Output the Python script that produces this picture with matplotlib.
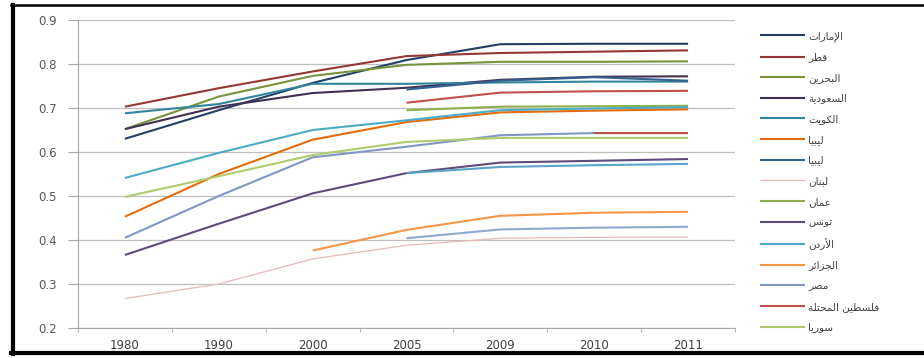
import numpy as np
import matplotlib
matplotlib.use("Agg")
import matplotlib.pyplot as plt
from matplotlib.lines import Line2D
from matplotlib.ticker import FixedLocator

nan = np.nan

# ---------------- data ----------------
years = ['1980', '1990', '2000', '2005', '2009', '2010', '2011']

countries = ['الإمارات', 'قطر', 'البحرين', 'السعودية', 'الكويت', 'ليبيا', 'ليبيا',
             'لبنان', 'عمان', 'تونس', 'الأردن', 'الجزائر', 'مصر',
             'فلسطين المحتلة', 'سوريا']

uae       = [0.630, 0.695, 0.757, 0.809, 0.845, 0.846, 0.846]
qatar     = [0.703, 0.745, 0.783, 0.818, 0.825, 0.828, 0.831]
bahrain   = [0.652, 0.726, 0.773, 0.798, 0.805, 0.805, 0.806]
saudi     = [0.652, 0.703, 0.734, 0.746, 0.764, 0.771, 0.772]
kuwait    = [0.688, 0.709, 0.755, 0.755, 0.758, 0.760, 0.760]
libya1    = [0.453, 0.550, 0.628, 0.668, 0.690, 0.694, 0.697]
libya2    = [nan, nan, nan, 0.742, 0.762, 0.770, 0.762]
lebanon   = [0.267, 0.300, 0.357, 0.388, 0.404, 0.406, 0.407]
oman      = [nan, nan, nan, 0.695, 0.703, 0.704, 0.705]
tunisia   = [0.366, 0.437, 0.506, 0.552, 0.576, 0.580, 0.584]
jordan    = [0.541, 0.598, 0.650, 0.672, 0.695, 0.699, 0.702]
algeria   = [nan, nan, 0.376, 0.423, 0.455, 0.462, 0.464]
egypt     = [0.405, 0.500, 0.588, 0.612, 0.638, 0.643, 0.643]
palestine = [nan, nan, nan, 0.712, 0.735, 0.738, 0.739]
syria     = [0.498, 0.545, 0.593, 0.623, 0.632, 0.632, 0.632]

# extra unlabeled segments visible in the picture
extra_red      = [nan, nan, nan, nan, nan, 0.644, 0.644]
extra_aqua     = [nan, nan, nan, 0.552, 0.566, 0.570, 0.573]
extra_bluegray = [nan, nan, nan, 0.404, 0.424, 0.428, 0.430]

series = [uae, qatar, bahrain, saudi, kuwait, libya1, libya2, lebanon, oman,
          tunisia, jordan, algeria, egypt, palestine, syria]
colors = ['#243F66', '#953735', '#77933C', '#403152', '#31859C', '#E46C0A',
          '#376092', '#E6B9B8', '#8DB04B', '#604A7B', '#4BACC6', '#F79646',
          '#7F96C6', '#C0504D', '#AFCB6E']
widths = [1.5] * 15
widths[7] = 0.9

extras = [extra_aqua, extra_bluegray, extra_red]
extra_colors = ['#5BA3C9', '#8EA9D0', '#C0504D']

y_ticks = [0.2, 0.3, 0.4, 0.5, 0.6, 0.7, 0.8, 0.9]

# ---------------- Arabic shaping (presentation forms, visual order) ----------------
FORMS = {
    '\u0627': ('\uFE8D', '\uFE8E', None, None),
    '\u0623': ('\uFE83', '\uFE84', None, None),
    '\u0625': ('\uFE87', '\uFE88', None, None),
    '\u0626': ('\uFE89', '\uFE8A', '\uFE8B', '\uFE8C'),
    '\u0628': ('\uFE8F', '\uFE90', '\uFE91', '\uFE92'),
    '\u0629': ('\uFE93', '\uFE94', None, None),
    '\u062A': ('\uFE95', '\uFE96', '\uFE97', '\uFE98'),
    '\u062C': ('\uFE9D', '\uFE9E', '\uFE9F', '\uFEA0'),
    '\u062D': ('\uFEA1', '\uFEA2', '\uFEA3', '\uFEA4'),
    '\u062F': ('\uFEA9', '\uFEAA', None, None),
    '\u0631': ('\uFEAD', '\uFEAE', None, None),
    '\u0632': ('\uFEAF', '\uFEB0', None, None),
    '\u0633': ('\uFEB1', '\uFEB2', '\uFEB3', '\uFEB4'),
    '\u0635': ('\uFEB9', '\uFEBA', '\uFEBB', '\uFEBC'),
    '\u0637': ('\uFEC1', '\uFEC2', '\uFEC3', '\uFEC4'),
    '\u0639': ('\uFEC9', '\uFECA', '\uFECB', '\uFECC'),
    '\u0641': ('\uFED1', '\uFED2', '\uFED3', '\uFED4'),
    '\u0642': ('\uFED5', '\uFED6', '\uFED7', '\uFED8'),
    '\u0643': ('\uFED9', '\uFEDA', '\uFEDB', '\uFEDC'),
    '\u0644': ('\uFEDD', '\uFEDE', '\uFEDF', '\uFEE0'),
    '\u0645': ('\uFEE1', '\uFEE2', '\uFEE3', '\uFEE4'),
    '\u0646': ('\uFEE5', '\uFEE6', '\uFEE7', '\uFEE8'),
    '\u0648': ('\uFEED', '\uFEEE', None, None),
    '\u064A': ('\uFEF1', '\uFEF2', '\uFEF3', '\uFEF4'),
}
LAM_ALEF = {'\u0627': ('\uFEFB', '\uFEFC', None, None),
            '\u0623': ('\uFEF7', '\uFEF8', None, None),
            '\u0625': ('\uFEF9', '\uFEFA', None, None)}


def shape(text):
    tokens = []
    i = 0
    while i < len(text):
        c = text[i]
        if c == '\u0644' and i + 1 < len(text) and text[i + 1] in LAM_ALEF:
            tokens.append(LAM_ALEF[text[i + 1]])
            i += 2
        elif c in FORMS:
            tokens.append(FORMS[c])
            i += 1
        else:
            tokens.append(c)
            i += 1
    out = []
    for k, t in enumerate(tokens):
        if isinstance(t, str):
            out.append(t)
            continue
        prev = tokens[k - 1] if k > 0 else None
        nxt = tokens[k + 1] if k + 1 < len(tokens) else None
        jp = prev is not None and not isinstance(prev, str) and prev[2] is not None
        jn = t[2] is not None and nxt is not None and not isinstance(nxt, str)
        if jp and jn:
            g = t[3]
        elif jp:
            g = t[1]
        elif jn:
            g = t[2]
        else:
            g = t[0]
        out.append(g)
    return ''.join(reversed(out))


# ---------------- figure ----------------
plt.rcParams['font.family'] = ['DejaVu Sans']
fig = plt.figure(figsize=(9.24, 3.58), dpi=100)
ax = fig.add_axes([78 / 924, 1 - 328 / 358, (735 - 78) / 924, (328 - 20) / 358])

x = np.arange(len(years))
handles = []
for vals, col, lw, name in zip(series, colors, widths, countries):
    h, = ax.plot(x, vals, color=col, lw=lw, solid_capstyle='butt',
                 label=shape(name))
    handles.append(h)
for vals, col in zip(extras, extra_colors):
    ax.plot(x, vals, color=col, lw=1.5, solid_capstyle='butt')

ax.set_xlim(-0.5, len(years) - 0.5)
ax.set_ylim(0.2, 0.9)
ax.set_yticks(y_ticks)
ax.set_yticklabels([f'{v:.1f}' for v in y_ticks])
ax.set_xticks(x)
ax.set_xticklabels(years)
ax.xaxis.set_minor_locator(FixedLocator(np.arange(-0.5, len(years), 1.0)))

ax.grid(axis='y', color='#BFBFBF', lw=0.9)
ax.set_axisbelow(True)
for s in ['top', 'right']:
    ax.spines[s].set_visible(False)
ax.spines['left'].set_color('#A6A6A6')
ax.spines['bottom'].set_color('#A6A6A6')
ax.tick_params(axis='y', length=7, color='#A6A6A6', pad=8, labelsize=8.5,
               labelcolor='#595959')
ax.tick_params(axis='x', which='major', length=0, pad=8, labelsize=8.5,
               labelcolor='#404040')
ax.tick_params(axis='x', which='minor', length=3, color='#A6A6A6')

fig.legend(handles=handles, loc='upper left', bbox_to_anchor=(760 / 924, 1 - 31 / 358),
           frameon=False, fontsize=7.5, handlelength=4.3, handletextpad=0.3,
           labelspacing=1.02, labelcolor='#404040', borderaxespad=0, borderpad=0)

# outer frame
fig.add_artist(Line2D([13 / 924, 13 / 924], [1 - 5 / 358, 1 - 354 / 358],
                      transform=fig.transFigure, color='black', lw=3))
fig.add_artist(Line2D([11 / 924, 1.0], [1 - 5 / 358, 1 - 5 / 358],
                      transform=fig.transFigure, color='black', lw=1.8))
fig.add_artist(Line2D([11 / 924, 1.0], [1 - 353 / 358, 1 - 353 / 358],
                      transform=fig.transFigure, color='black', lw=3))

fig.savefig('out.png', dpi=100)
